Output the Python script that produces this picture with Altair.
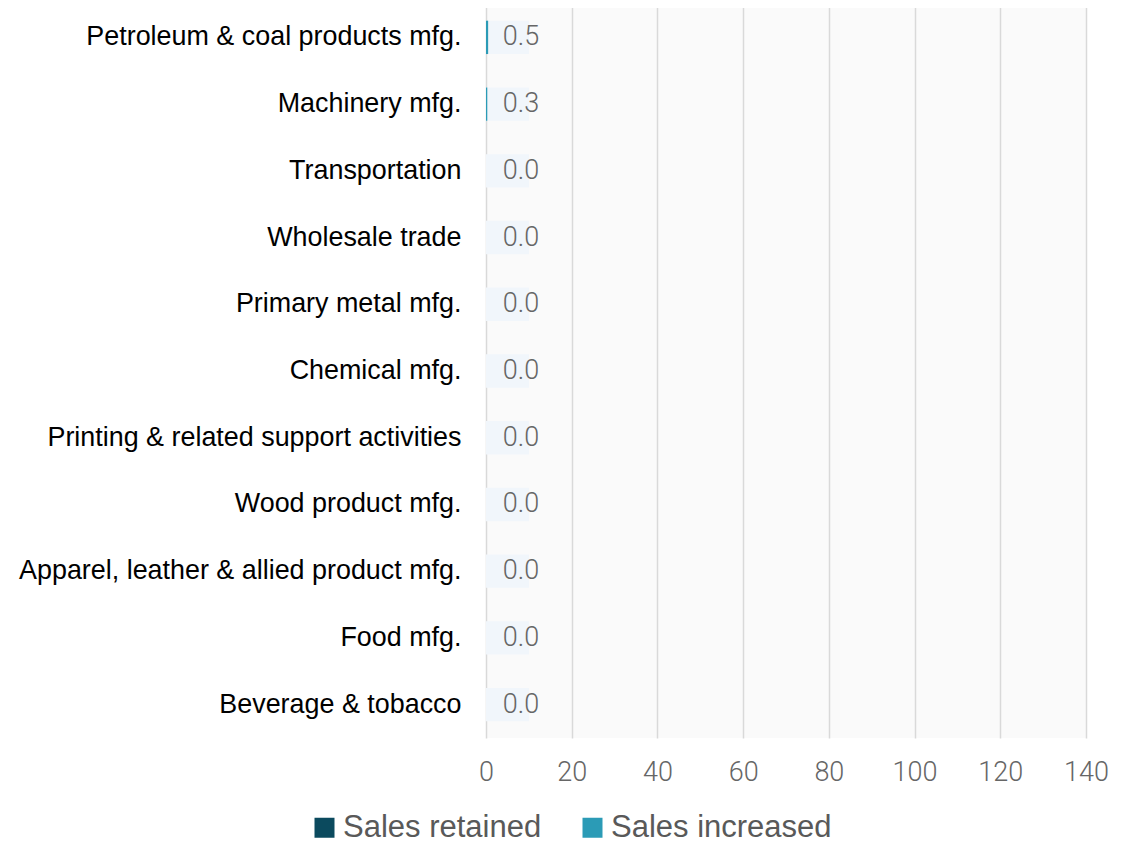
import altair as alt
import pandas as pd

categories = [
    "Petroleum & coal products mfg.",
    "Machinery mfg.",
    "Transportation",
    "Wholesale trade",
    "Primary metal mfg.",
    "Chemical mfg.",
    "Printing & related support activities",
    "Wood product mfg.",
    "Apparel, leather & allied product mfg.",
    "Food mfg.",
    "Beverage & tobacco",
]
sales_retained = [0.0, 0.0, 0.0, 0.0, 0.0, 0.0, 0.0, 0.0, 0.0, 0.0, 0.0]
sales_increased = [0.5, 0.3, 0.0, 0.0, 0.0, 0.0, 0.0, 0.0, 0.0, 0.0, 0.0]
totals = [r + i for r, i in zip(sales_retained, sales_increased)]
x_ticks = [0, 20, 40, 60, 80, 100, 120, 140]
series = ["Sales retained", "Sales increased"]
colors = ["#0b4a5e", "#2b9bb6"]

rows = []
for c, r, i in zip(categories, sales_retained, sales_increased):
    rows.append({"cat": c, "series": series[0], "value": r, "order": 0})
    rows.append({"cat": c, "series": series[1], "value": i, "order": 1})
long_df = pd.DataFrame(rows)
tot_df = pd.DataFrame({"cat": categories, "total": totals,
                       "label": [f"{t:.1f}" for t in totals]})

y_enc = alt.Y("cat:N", sort=categories,
              scale=alt.Scale(paddingInner=0.5, paddingOuter=0.25),
              axis=alt.Axis(title=None, ticks=False, domain=False, grid=False,
                            labelFontSize=26.9, labelColor="#000000",
                            labelFont="Liberation Sans", labelPadding=25,
                            labelLimit=600))

bg = alt.Chart(tot_df).mark_bar(color="#f1f6fb").encode(
    y=y_enc, x=alt.value(0), x2=alt.value(43)
)

bars = alt.Chart(long_df).mark_bar().encode(
    y=alt.Y("cat:N", sort=categories),
    x=alt.X("value:Q", stack="zero",
            scale=alt.Scale(domain=[0, 140], nice=False),
            axis=alt.Axis(title=None, values=x_ticks, ticks=False, domain=False,
                          grid=True, gridColor="#d9d9d9", gridWidth=1.5,
                          labelFontSize=27, labelColor="#666666",
                          labelFont="Roboto", labelFontWeight=300,
                          labelFlush=False, labelPadding=21)),
    color=alt.Color("series:N", sort=series,
                    scale=alt.Scale(domain=series, range=colors),
                    legend=alt.Legend(title=None, orient="none",
                                      direction="horizontal",
                                      legendX=-177, legendY=808,
                                      symbolType="square", symbolSize=400,
                                      symbolStrokeWidth=0, symbolOpacity=1,
                                      labelFontSize=31, labelColor="#595959",
                                      labelFont="Liberation Sans",
                                      labelLimit=400,
                                      labelOffset=3, columnPadding=35,
                                      padding=0)),
    order=alt.Order("order:Q"),
)

text = alt.Chart(tot_df).mark_text(
    align="center", baseline="middle", fontSize=27, color="#666666",
    font="Roboto", fontWeight=300
).encode(
    y=alt.Y("cat:N", sort=categories),
    x=alt.value(35),
    text="label:N",
)

chart = alt.layer(bg, bars, text).properties(
    width=600, height=734,
    autosize=alt.AutoSizeParams(type="none"),
    padding={"left": 478, "top": -4, "right": 40, "bottom": 101},
).configure_view(fill="#fafafa", stroke=None)

chart.save("out.html", embed_options={"renderer": "svg", "actions": False})
